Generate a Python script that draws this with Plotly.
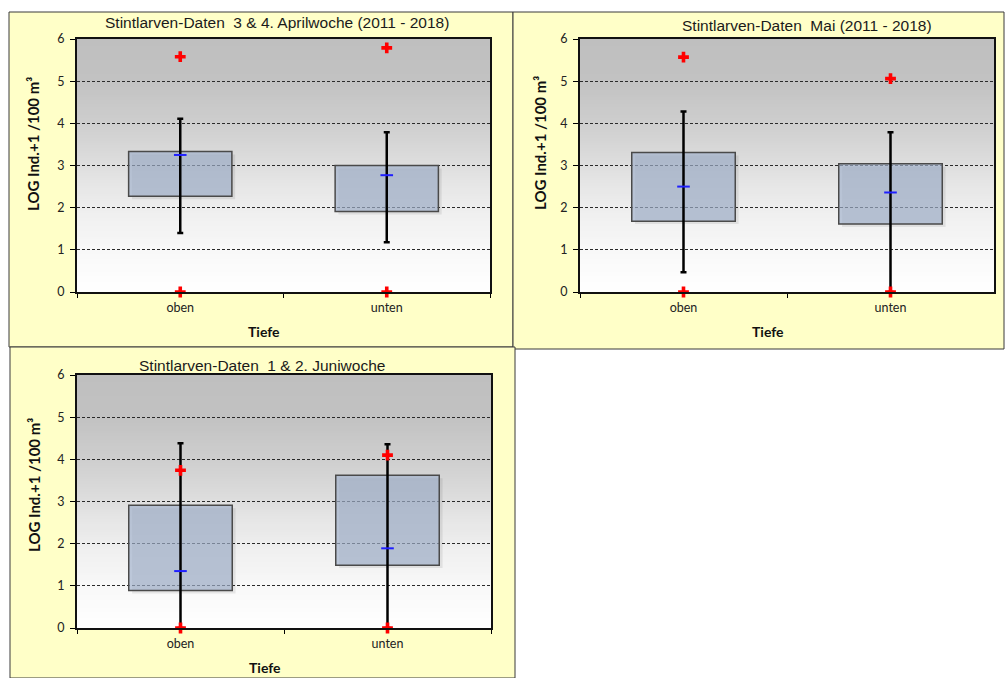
import plotly.graph_objects as go

# ---------------- data ----------------
categories = ["oben", "unten"]
titles = [
    "Stintlarven-Daten\u00a0 3 & 4. Aprilwoche\u00a0(2011 - 2018)",
    "Stintlarven-Daten\u00a0 Mai (2011 - 2018)",
    "Stintlarven-Daten\u00a0 1 & 2. Juniwoche",
]
q1_values = [[2.27, 1.91], [1.68, 1.61], [0.89, 1.49]]
q3_values = [[3.33, 3.00], [3.31, 3.04], [2.91, 3.62]]
median_values = [[3.25, 2.77], [2.50, 2.36], [1.35, 1.89]]
whisker_low = [[1.40, 1.18], [0.47, 0.00], [0.00, 0.00]]
whisker_high = [[4.11, 3.79], [4.28, 3.79], [4.38, 4.36]]
min_values = [[0.0, 0.0], [0.0, 0.0], [0.0, 0.0]]
max_values = [[5.58, 5.79], [5.57, 5.06], [3.74, 4.10]]
y_ticks = [0, 1, 2, 3, 4, 5, 6]
x_title = "Tiefe"
y_title = "LOG Ind.+1 /100 m\u00b3"

W, H = 1005, 678
def px(x):
    return x / W
def py(y):
    return 1 - y / H

plot_px = [(77, 490, 39, 292), (580, 994, 39, 292), (77, 491, 375, 628)]
panel_px = [(9, 513, 12, 347), (513, 1004, 12, 349), (10, 515, 347, 678)]
title_pos = [(277, 23), (807, 26), (262, 366)]
xtitle_pos = [(264, 331), (768, 331), (265, 667)]
ytitle_pos = [(33, 144), (540, 143), (34, 485)]

TICKFONT = dict(family="Lato, Carlito, sans-serif", size=12.5, color="#222222")
BOX_FILL = "rgba(160,177,204,0.68)"
SHADOW = "rgba(0,0,0,0.08)"
BOX_WIDTH = 0.5
SHADOW_DX = 0.016   # in category units (~3 px)
SHADOW_DY = 0.07    # in y units (~3 px)

fig = go.Figure()
shapes = []
annotations = []

for (x0, x1, y0, y1) in panel_px:
    shapes.append(dict(type="rect", xref="paper", yref="paper",
                       x0=px(x0), x1=px(x1), y0=py(y1), y1=py(y0),
                       fillcolor="#FFFFC8", line=dict(color="#3a3a3a", width=1),
                       layer="below"))

stops = [(0.0, 255), (1/6, 248), (2/6, 238), (3/6, 223), (4/6, 206), (5/6, 194), (1.0, 191)]
def gray_at(t):
    for (ta, va), (tb, vb) in zip(stops[:-1], stops[1:]):
        if ta <= t <= tb:
            return va + (vb - va) * (t - ta) / (tb - ta)
    return stops[-1][1]

NB = 100
for i, (x0, x1, yt, yb) in enumerate(plot_px):
    k = "" if i == 0 else str(i + 1)
    fig.update_layout({
        "xaxis" + k: dict(domain=[px(x0), px(x1)], anchor="y" + k, type="category",
                 categoryorder="array", categoryarray=categories,
                 range=[-0.5, 1.5], tickson="boundaries", ticks="outside",
                 ticklen=4, tickcolor="#000", tickwidth=1, ticklabelstandoff=3,
                 showline=True, linecolor="#111", linewidth=2, mirror=True,
                 showgrid=False, tickfont=TICKFONT, fixedrange=True,
                 automargin=False),
        "yaxis" + k: dict(domain=[py(yb), py(yt)], anchor="x" + k, range=[0, 6],
                 tickvals=y_ticks, ticks="outside", ticklen=5, ticklabelstandoff=3,
                 tickcolor="#000", tickwidth=1, showline=True,
                 linecolor="#111", linewidth=2, mirror=True,
                 showgrid=True, gridcolor="#2a2a2a", gridwidth=1,
                 griddash="3px,2px", zeroline=False, tickfont=TICKFONT,
                 fixedrange=True, automargin=False),
    })
    for b in range(NB):
        t0 = b / NB
        t1 = (b + 1) / NB
        g = int(round(gray_at((t0 + t1) / 2)))
        shapes.append(dict(type="rect", xref="x" + k + " domain", yref="y" + k + " domain",
                           x0=0, x1=1, y0=t0, y1=min(1, t1 + 0.004),
                           fillcolor=f"rgb({g},{g},{g})", line=dict(width=0),
                           layer="below"))

    q1 = q1_values[i]
    q3 = q3_values[i]
    heights = [b - a for a, b in zip(q1, q3)]
    # soft drop shadow of the boxes
    fig.add_trace(go.Bar(
        x=categories, y=heights, base=[v - SHADOW_DY for v in q1], width=BOX_WIDTH,
        offset=-BOX_WIDTH / 2 + SHADOW_DX,
        marker=dict(color=SHADOW, line=dict(width=0)),
        xaxis="x" + k, yaxis="y" + k, showlegend=False, hoverinfo="skip"))
    fig.add_trace(go.Bar(
        x=categories, y=heights, base=q1, width=BOX_WIDTH, offset=-BOX_WIDTH / 2,
        marker=dict(color=BOX_FILL, line=dict(color="#4a4a4a", width=1.5)),
        xaxis="x" + k, yaxis="y" + k, showlegend=False, hoverinfo="skip"))
    fig.add_trace(go.Scatter(
        x=categories, y=whisker_low[i], mode="markers",
        marker=dict(size=1, color="rgba(0,0,0,0)"),
        error_y=dict(type="data", symmetric=False,
                     array=[h - l for l, h in zip(whisker_low[i], whisker_high[i])],
                     arrayminus=[0, 0], color="#000000", thickness=2.5, width=3),
        xaxis="x" + k, yaxis="y" + k, showlegend=False, hoverinfo="skip"))
    fig.add_trace(go.Scatter(
        x=categories, y=median_values[i], mode="markers",
        marker=dict(symbol="line-ew", size=9, line=dict(color="#1f1fff", width=2)),
        xaxis="x" + k, yaxis="y" + k, showlegend=False))
    fig.add_trace(go.Scatter(
        x=categories + categories, y=max_values[i] + min_values[i], mode="markers",
        marker=dict(symbol="cross", size=9, color="#ff0000", line=dict(width=0)),
        xaxis="x" + k, yaxis="y" + k, showlegend=False, cliponaxis=False))

    tx, ty = title_pos[i]
    annotations.append(dict(text=titles[i], xref="paper", yref="paper",
                            x=px(tx), y=py(ty), xanchor="center", yanchor="middle",
                            showarrow=False,
                            font=dict(family="Liberation Sans, Arial, sans-serif",
                                      size=15.5, color="#1a1a1a")))
    xx, xy = xtitle_pos[i]
    annotations.append(dict(text="<b>" + x_title + "</b>", xref="paper", yref="paper",
                            x=px(xx), y=py(xy), xanchor="center", yanchor="middle",
                            showarrow=False,
                            font=dict(family="Lato, Carlito, sans-serif", size=14,
                                      color="#111")))
    yx, yy = ytitle_pos[i]
    annotations.append(dict(text="<b>" + y_title + "</b>", xref="paper", yref="paper",
                            x=px(yx), y=py(yy), xanchor="center", yanchor="middle",
                            textangle=-90, showarrow=False,
                            font=dict(family="Lato, Carlito, sans-serif", size=15,
                                      color="#111")))

fig.update_layout(
    width=W, height=H, margin=dict(l=0, r=0, t=0, b=0, autoexpand=False),
    paper_bgcolor="white", plot_bgcolor="rgba(0,0,0,0)",
    shapes=shapes, annotations=annotations, barmode="overlay", showlegend=False,
)

fig.write_html(
    "out.html",
    post_script="document.body.style.margin='0';document.body.style.overflow='hidden';",
    config={"displayModeBar": False},
)
